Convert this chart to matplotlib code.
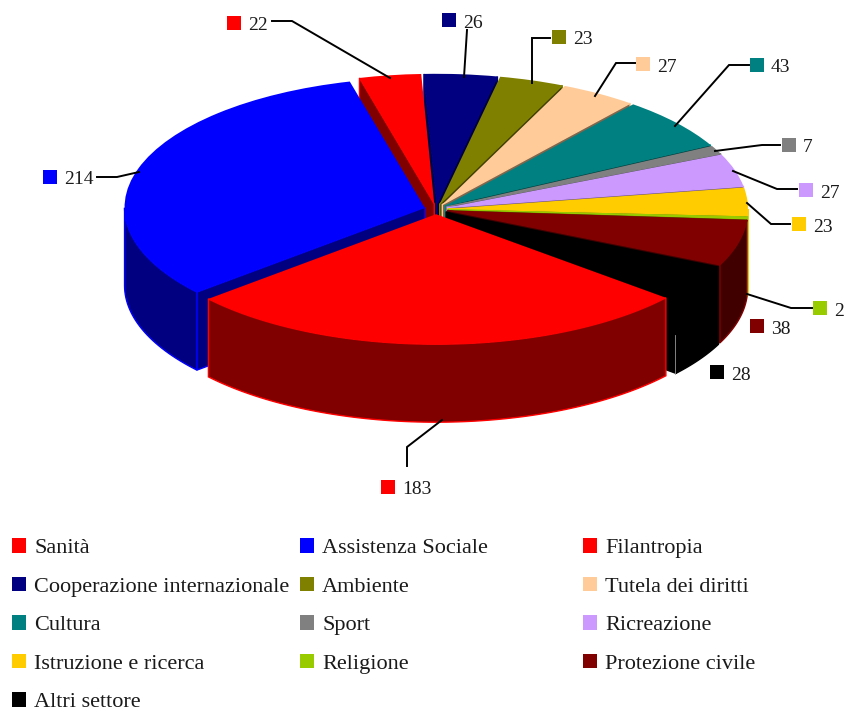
import numpy as np
import matplotlib
matplotlib.use("Agg")
import matplotlib.pyplot as plt
from matplotlib.patches import Polygon
from matplotlib.colors import to_rgb
from matplotlib.transforms import Affine2D

plt.rcParams['font.family'] = ['Liberation Serif', 'DejaVu Serif']

categories = ["Sanità", "Assistenza Sociale", "Filantropia", "Cooperazione internazionale",
              "Ambiente", "Tutela dei diritti", "Cultura", "Sport", "Ricreazione",
              "Istruzione e ricerca", "Religione", "Protezione civile", "Altri settore"]
values = [183, 214, 22, 26, 23, 27, 43, 7, 27, 23, 2, 38, 28]
colors = ["#FF0000", "#0000FF", "#FF0000", "#000080", "#808000", "#FFCC99", "#008080",
          "#808080", "#CC99FF", "#FFCC00", "#99CC00", "#800000", "#000000"]

# where each value label sits, in picture pixels
label_x = [388, 50, 234, 449, 559, 643, 757, 789, 806, 799, 820, 757, 717]
label_y = [487, 177, 23, 20, 37, 64, 65, 145, 190, 224, 308, 326, 372]

# leader lines, None where the label has none
leaders = [
    [(442, 420), (407, 447), (407, 466)],
    [(139, 172), (117, 177), (97, 177)],
    [(390, 78), (292, 21), (272, 21)],
    [(464, 77), (467, 30)],
    [(532, 83), (532, 38), (550, 38)],
    [(595, 96), (616, 63), (635, 63)],
    [(675, 126), (729, 65), (749, 65)],
    [(715, 151), (762, 145), (780, 145)],
    [(733, 171), (777, 189), (797, 189)],
    [(747, 203), (771, 224), (790, 224)],
    [(747, 294), (791, 308), (812, 308)],
    None,
    None,
]

CX, CY = 436, 209
RX, RY = 300, 130
DEPTH = 78 / RY
EXPLODE = 0.04
START = 320.0
FS = 14
LEGEND_FS = 16

fig = plt.figure(figsize=(8.47, 7.10), dpi=100)
ax = fig.add_axes([0, 0, 1, 1])

wedges, _ = ax.pie(values, labels=None, colors=colors, startangle=START, counterclock=False,
                   explode=[EXPLODE] * len(values), wedgeprops=dict(linewidth=0.6))
ax.set_aspect('auto')
ax.set_xlim(0, 847)
ax.set_ylim(710, 0)
ax.axis('off')

# squash the round pie into the tilted ellipse
tilt = Affine2D().scale(RX, -RY).translate(CX, CY) + ax.transData

total = sum(values)
edges = START - np.cumsum([0] + values) / total * 360
mids = (edges[:-1] + edges[1:]) / 2
order = np.argsort(-np.sin(np.radians(mids)))


def slab(top):
    top = np.array(top)
    return np.vstack([top, (top - [0, DEPTH])[::-1]])


for rank, i in enumerate(order):
    z = 2 + rank * 0.01
    hi, lo = edges[i], edges[i + 1]
    m = np.radians(mids[i])
    cen = np.array([EXPLODE * np.cos(m), EXPLODE * np.sin(m)])
    edge = colors[i]
    dark = tuple(c / 2 for c in to_rgb(edge))
    faces = []
    # cut faces turned towards the viewer
    for a, sign in ((hi, 90), (lo, -90)):
        if np.sin(np.radians(a + sign)) < 0:
            r = np.radians(a)
            faces.append(slab([cen, cen + [np.cos(r), np.sin(r)]]))
    # outer wall, front half of the rim only
    angs = np.linspace(lo, hi, 90)
    angs = angs[np.sin(np.radians(angs)) <= 0]
    if len(angs) > 1:
        r = np.radians(angs)
        faces.append(slab(np.column_stack([cen[0] + np.cos(r), cen[1] + np.sin(r)])))
    for f in faces:
        ax.add_patch(Polygon(f, closed=True, facecolor=dark, edgecolor=edge, linewidth=1.0,
                             transform=tilt, zorder=z))
    wedges[i].set_transform(tilt)
    wedges[i].set_zorder(z + 0.005)

# pale seam on the black wall
ax.plot([675, 675], [335, 374], color="#999999", lw=0.6, zorder=3)

for i, path in enumerate(leaders):
    if path is not None:
        xs, ys = zip(*path)
        ax.plot(xs, ys, color="black", lw=1.4, zorder=5, solid_joinstyle='miter')
    ax.scatter(label_x[i], label_y[i], marker='s', s=100, color=colors[i], linewidths=0, zorder=6)
    ax.text(label_x[i] + 14, label_y[i] + 3, str(values[i]), fontsize=FS, color="#1a1a1a",
            ha='left', va='center', zorder=6)

# three separate legends so each column starts where the reference does
columns = [(0, 3, 6, 9, 12), (1, 4, 7, 10), (2, 5, 8, 11)]
col_x = [12, 300, 583]
for col, x in zip(columns, col_x):
    fig.legend([wedges[i] for i in col], [categories[i] for i in col],
               loc='upper left', bbox_to_anchor=(x / 847, 1 - 538 / 710), frameon=False,
               fontsize=LEGEND_FS, labelcolor="#1a1a1a", handlelength=0.63, handleheight=0.63,
               handletextpad=0.36, labelspacing=0.83, borderpad=0, borderaxespad=0)

fig.savefig("out.png", dpi=100)
